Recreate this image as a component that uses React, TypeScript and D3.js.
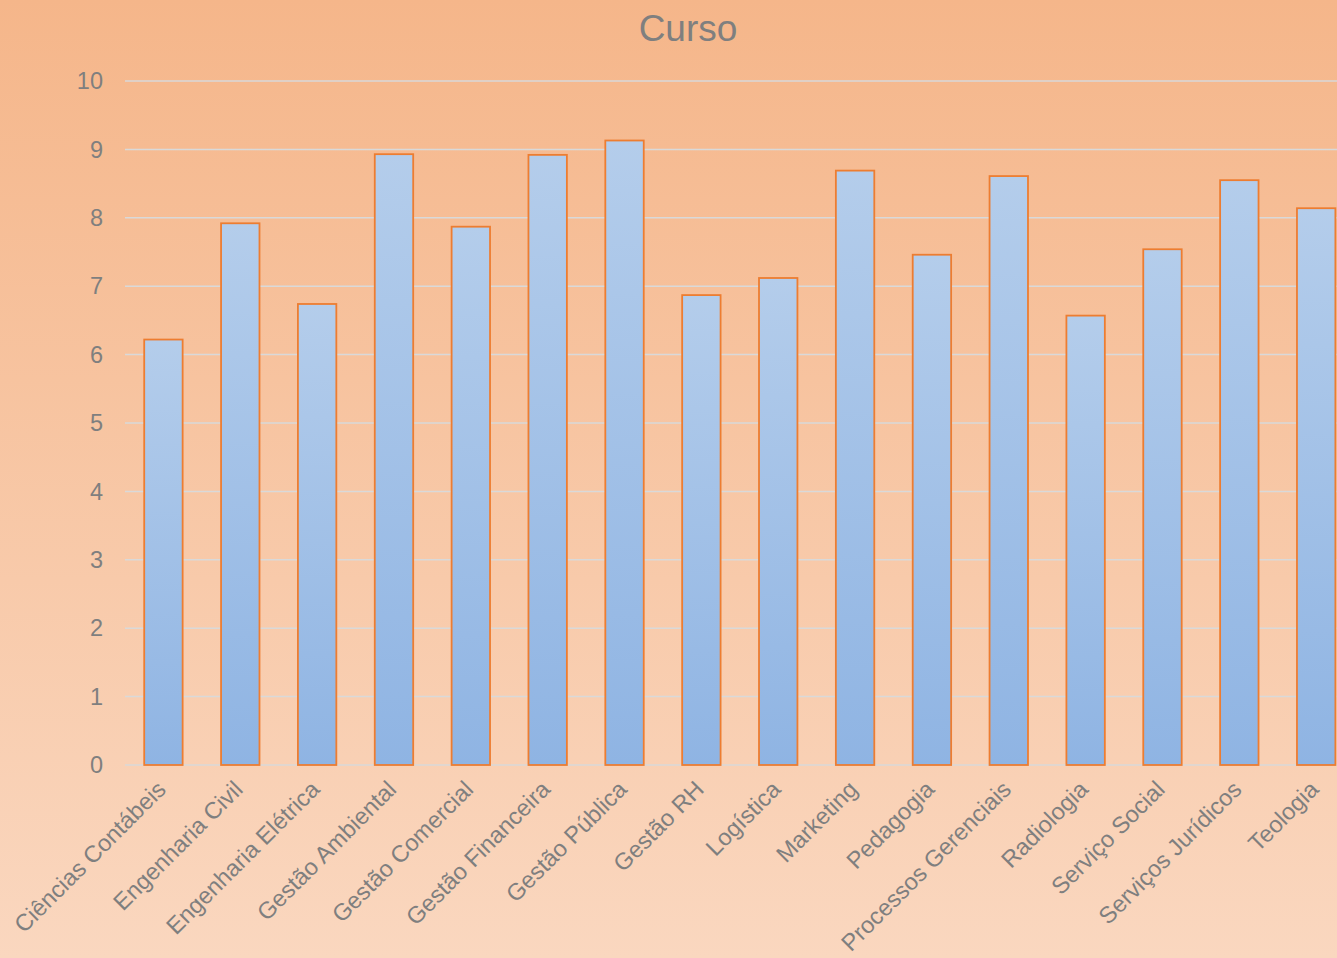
import React from "react";
import { scaleBand, scaleLinear } from "d3";

const categories = [
  "Ciências Contábeis",
  "Engenharia Civil",
  "Engenharia Elétrica",
  "Gestão Ambiental",
  "Gestão Comercial",
  "Gestão Financeira",
  "Gestão Pública",
  "Gestão RH",
  "Logística",
  "Marketing",
  "Pedagogia",
  "Processos Gerenciais",
  "Radiologia",
  "Serviço Social",
  "Serviços Jurídicos",
  "Teologia",
];
const values = [6.22, 7.92, 6.74, 8.93, 7.87, 8.92, 9.13, 6.87, 7.12, 8.69, 7.46, 8.61, 6.57, 7.54, 8.55, 8.14];
const yTicks = [0, 1, 2, 3, 4, 5, 6, 7, 8, 9, 10];

const Width = 1337;
const Height = 958;

export default function App() {
  const xScale = scaleBand<string>()
    .domain(categories)
    .range([125, 1354.6])
    .paddingInner(0.5)
    .paddingOuter(0.25);

  const yScale = scaleLinear().domain([0, 10]).range([765, 81]);

  const font = "'Liberation Sans', Arial, sans-serif";
  const gray = "#7f7f7f";

  return (
    <div style={{ position: "absolute", left: 0, top: 0, width: Width, height: Height, overflow: "hidden" }}>
      <svg width={Width} height={Height} style={{ display: "block" }}>
        <defs>
          <linearGradient id="bg" x1="0" y1="0" x2="0" y2="1">
            <stop offset="0" stopColor="#f5b68a" />
            <stop offset="1" stopColor="#fad7bf" />
          </linearGradient>
          <linearGradient id="barFill" x1="0" y1="0" x2="0" y2="1">
            <stop offset="0" stopColor="#b4cdeb" />
            <stop offset="1" stopColor="#8fb4e3" />
          </linearGradient>
        </defs>
        <rect x={0} y={0} width={Width} height={Height} fill="url(#bg)" />

        {/* title */}
        <text x={688} y={41} textAnchor="middle" fontFamily={font} fontSize={37} fill={gray}>
          Curso
        </text>

        {/* grid */}
        {yTicks.map((t) => (
          <g key={t}>
            <line x1={125} x2={1355} y1={yScale(t)} y2={yScale(t)} stroke="#d9d9d9" strokeWidth={1.5} />
            <text x={103} y={yScale(t)} dy="0.35em" textAnchor="end" fontFamily={font} fontSize={23.5} fill={gray}>
              {t}
            </text>
          </g>
        ))}

        {/* bars */}
        {categories.map((c, i) => (
          <rect
            key={c}
            x={xScale(c)}
            y={yScale(values[i])}
            width={xScale.bandwidth()}
            height={yScale(0) - yScale(values[i])}
            fill="url(#barFill)"
            stroke="#ed7d31"
            strokeWidth={1.8}
          />
        ))}

        {/* category labels */}
        {categories.map((c) => {
          const cx = (xScale(c) as number) + xScale.bandwidth() / 2 - 2;
          return (
            <text
              key={c}
              transform={`translate(${cx},${785}) rotate(-45)`}
              textAnchor="end"
              dy="0.35em"
              fontFamily={font}
              fontSize={23.5}
              fill={gray}
            >
              {c}
            </text>
          );
        })}
      </svg>
    </div>
  );
}
